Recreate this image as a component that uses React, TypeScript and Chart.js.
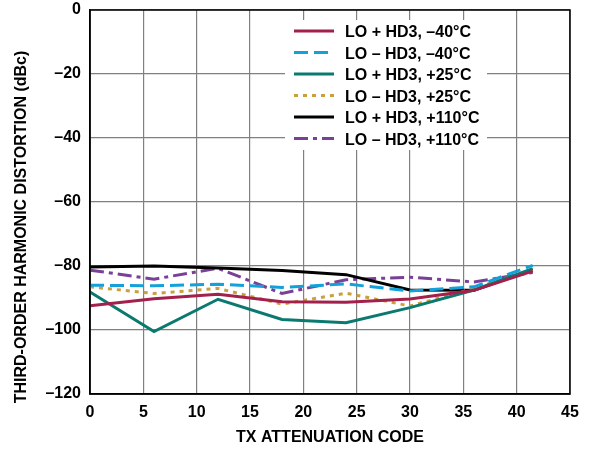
import React, { useEffect, useRef } from "react";
import { Chart, registerables } from "chart.js";

Chart.register(...registerables);

const attenuationCodes = [0, 6, 12, 18, 24, 30, 36, 41.5];
const loPlusM40 = [-92.4, -90.2, -88.8, -91.2, -91.3, -90.3, -87.6, -81.6];
const loMinusM40 = [-86.0, -86.2, -85.7, -86.7, -85.6, -87.8, -86.5, -79.8];
const loPlus25 = [-88.1, -100.5, -90.4, -96.7, -97.7, -93.0, -87.5, -80.8];
const loMinus25 = [-86.5, -88.6, -87.0, -91.9, -88.5, -92.5, -87.0, -81.2];
const loPlus110 = [-80.3, -80.0, -80.6, -81.4, -82.7, -87.5, -87.6, -81.2];
const loMinus110 = [-81.3, -84.1, -80.7, -88.6, -84.3, -83.5, -85.0, -82.0];

const seriesLabels = [
  "LO + HD3, \u201340°C",
  "LO \u2013 HD3, \u201340°C",
  "LO + HD3, +25°C",
  "LO \u2013 HD3, +25°C",
  "LO + HD3, +110°C",
  "LO \u2013 HD3, +110°C",
];
const seriesValues = [loPlusM40, loMinusM40, loPlus25, loMinus25, loPlus110, loMinus110];
const seriesColors = ["#a4204c", "#14a0d8", "#0a7a70", "#c9a03e", "#000000", "#7a3f96"];
const seriesDashes = [[], [14, 6], [], [4, 5], [], [14, 5, 4, 5]];

const xTitle = "TX ATTENUATION CODE";
const yTitle = "THIRD-ORDER HARMONIC DISTORTION (dBc)";

const FONT = "'Liberation Sans', Arial, Helvetica, sans-serif";

const overlayPlugin = {
  id: "overlay",
  afterDraw(chart: any) {
    const { ctx, chartArea: a } = chart;
    ctx.save();
    // frame
    ctx.strokeStyle = "#000";
    ctx.lineWidth = 1.5;
    ctx.setLineDash([]);
    ctx.strokeRect(a.left, a.top, a.right - a.left, a.bottom - a.top);

    // legend
    const bx = a.left + 195;
    const by = a.top + 10;
    ctx.fillStyle = "#fff";
    ctx.fillRect(bx, by, 202, 130);
    ctx.font = `bold 16px ${FONT}`;
    ctx.textBaseline = "middle";
    ctx.textAlign = "left";
    for (let i = 0; i < seriesLabels.length; i++) {
      const y = by + 11 + i * 21.5;
      ctx.beginPath();
      ctx.strokeStyle = seriesColors[i];
      ctx.lineWidth = 3;
      ctx.setLineDash(seriesDashes[i]);
      ctx.moveTo(bx + 9, y);
      ctx.lineTo(bx + 49, y);
      ctx.stroke();
      ctx.setLineDash([]);
      ctx.fillStyle = "#000";
      ctx.fillText(seriesLabels[i], bx + 60, y + 2);
    }

    // axis titles
    ctx.fillStyle = "#000";
    ctx.font = `bold 16px ${FONT}`;
    ctx.textAlign = "center";
    ctx.textBaseline = "middle";
    ctx.fillText(xTitle, (a.left + a.right) / 2, 438);
    ctx.translate(22, 227);
    ctx.rotate(-Math.PI / 2);
    ctx.fillText(yTitle, 0, 0);
    ctx.restore();
  },
};

export default function App() {
  const canvasRef = useRef<HTMLCanvasElement | null>(null);

  useEffect(() => {
    document.body.style.margin = "0";
    const canvas = canvasRef.current;
    if (!canvas) return;
    const chart = new Chart(canvas, {
      type: "line",
      data: {
        datasets: seriesLabels.map((label, i) => ({
          label,
          data: attenuationCodes.map((x, j) => ({ x, y: seriesValues[i][j] })),
          borderColor: seriesColors[i],
          backgroundColor: seriesColors[i],
          borderWidth: 3,
          borderDash: seriesDashes[i],
          pointRadius: 0,
          tension: 0,
          fill: false,
        })),
      },
      options: {
        animation: false,
        responsive: false,
        maintainAspectRatio: false,
        layout: { padding: { top: 10, right: 32, bottom: 0, left: 0 } },
        plugins: {
          legend: { display: false },
          tooltip: { enabled: false },
        },
        scales: {
          x: {
            type: "linear",
            min: 0,
            max: 45,
            afterFit: (s: any) => {
              s.height = 55;
              s.paddingLeft = 0;
              s.paddingRight = 0;
            },
            ticks: {
              stepSize: 5,
              padding: 9,
              color: "#000",
              font: { family: FONT, size: 16, weight: "bold" },
              maxRotation: 0,
            },
            grid: { color: "#808080", lineWidth: 1.2, drawTicks: false },
            border: { color: "#000", width: 1.5 },
            title: { display: false },
          },
          y: {
            min: -120,
            max: 0,
            afterFit: (s: any) => {
              s.width = 90;
              s.paddingTop = 0;
              s.paddingBottom = 0;
            },
            ticks: {
              stepSize: 20,
              padding: 9,
              color: "#000",
              font: { family: FONT, size: 16, weight: "bold" },
              callback: (v: any) => String(v).replace("-", "\u2013"),
            },
            grid: { color: "#808080", lineWidth: 1.2, drawTicks: false },
            border: { color: "#000", width: 1.5 },
            title: { display: false },
          },
        },
      },
      plugins: [overlayPlugin],
    });
    return () => chart.destroy();
  }, []);

  return (
    <div style={{ width: 602, height: 449, background: "#fff" }}>
      <canvas ref={canvasRef} width={602} height={449} style={{ display: "block" }} />
    </div>
  );
}
